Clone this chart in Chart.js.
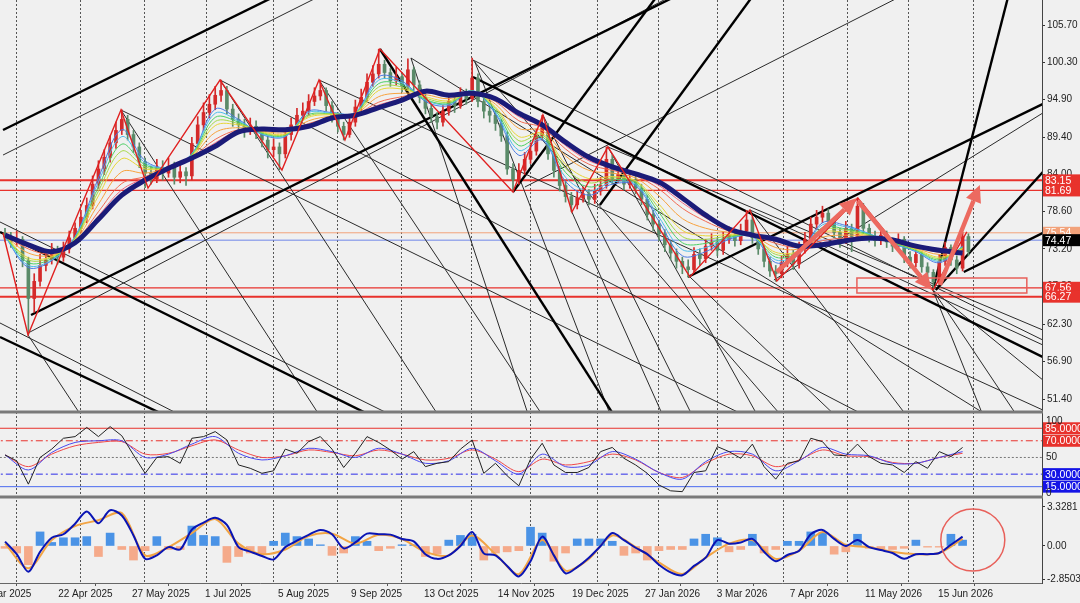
<!DOCTYPE html>
<html lang="en">
<head>
<meta charset="UTF-8">
<title>Price chart</title>
<script src="https://cdn.jsdelivr.net/npm/chart.js"></script>
<style>
  body { margin: 0; background: #f0f0f0; }
  #wrap { width: 1080px; height: 603px; position: relative; }
</style>
</head>
<body>
<div id="wrap"><canvas id="chart"></canvas></div>
<script>
// ---- candles (one candle per two sessions), index = candle number ----
const opens = [75.5,75.0,74.2,74.6,71.5,66.0,68.5,70.8,71.6,72.6, 72.0,73.2,74.8,76.2,77.8,79.5,82.6,84.8,86.5,88.6,
  90.4,92.0,89.8,88.0,85.8,84.2,83.4,85.0,84.2,85.2, 83.6,84.4,83.8,88.5,91.2,93.0,94.2,95.5,96.2,93.5,
  92.0,91.2,90.4,91.0,90.2,89.0,87.6,88.0,87.0,89.8, 91.2,92.6,93.2,94.6,95.4,96.2,94.0,92.4,91.0,89.8,
  91.6,93.8,95.2,97.4,98.6,100.0,98.8,97.6,98.2,96.8, 99.2,97.0,95.2,93.6,92.4,91.6,93.2,94.6,94.0,95.6,
  95.0,98.0,94.6,93.2,92.6,91.4,89.6,84.8,83.2,84.6, 86.2,87.4,89.6,90.8,87.0,84.6,82.4,80.8,79.6,80.6,
  81.2,80.4,81.6,82.4,86.2,83.4,84.0,82.6,83.2,82.0, 80.4,78.2,76.8,75.4,73.8,72.6,71.4,70.6,70.2,72.4,
  71.8,73.6,74.2,73.0,74.6,75.2,74.4,75.8,77.4,74.8, 73.2,71.4,70.0,69.6,71.2,72.4,71.0,73.2,74.6,76.8,
  77.8,78.4,77.2,75.6,74.6,76.2,75.0,79.4,76.2,75.0, 74.4,75.2,74.2,73.6,74.6,72.0,71.2,72.4,70.6,69.8,
  68.4,71.4,73.4,71.6,70.4,75.0];
const highs = [76.2,75.6,75.8,75.0,72.0,69.6,72.4,73.0,74.0,73.6, 74.2,75.8,77.0,78.8,80.6,83.8,86.0,87.6,89.6,91.6,
  93.4,92.6,90.4,88.6,86.4,85.2,86.2,86.0,86.4,85.8, 85.4,85.0,89.4,92.4,94.4,95.6,96.8,97.7,96.8,94.2,
  92.8,92.0,92.2,91.8,90.8,89.6,89.2,88.6,90.6,92.2, 93.6,94.4,95.6,96.6,97.7,96.6,94.6,93.0,91.6,92.6,
  94.8,96.4,98.6,99.8,102.2,100.6,99.4,99.6,98.8,100.8, 99.6,97.6,95.8,94.2,93.0,94.0,95.6,95.4,96.6,96.4,
  100.9,98.6,95.2,93.8,93.2,92.0,90.2,85.6,85.6,87.2, 88.6,90.6,92.6,91.4,87.6,85.2,83.0,81.4,81.6,82.2,
  81.8,82.6,83.6,88.0,86.8,85.0,84.6,84.2,83.8,82.6, 81.0,78.8,77.4,76.0,74.4,73.2,72.0,71.6,73.4,73.2,
  74.6,75.4,74.8,75.6,76.4,75.8,76.8,78.8,77.8,75.4, 73.8,72.0,70.8,72.2,73.6,73.0,74.2,75.6,77.8,78.8,
  79.4,79.0,77.8,76.2,77.2,76.8,80.6,79.8,76.8,75.8, 76.2,75.8,74.8,75.4,75.0,72.8,73.2,72.8,71.2,70.2,
  72.4,74.2,73.8,72.2,75.6,75.4];
const lows = [74.3,73.4,73.6,70.6,60.8,64.0,67.8,70.0,71.0,71.0, 71.4,72.6,74.0,75.6,77.0,79.0,82.0,84.0,85.8,87.8,
  89.8,89.0,87.2,85.0,82.1,82.6,82.8,83.2,83.6,82.6, 82.8,82.4,83.2,87.6,90.4,92.2,93.4,94.6,92.8,91.0,
  90.2,89.4,89.8,89.2,88.0,86.4,86.6,84.7,86.4,89.0, 90.6,92.0,92.6,94.0,94.8,93.2,91.6,90.2,89.0,89.4,
  91.0,93.2,94.6,96.8,98.0,98.0,96.8,97.0,96.0,96.4, 96.2,94.4,92.8,91.6,90.6,91.0,92.6,93.0,93.6,94.2,
  94.6,93.8,92.2,91.6,90.4,88.8,84.0,81.5,82.6,84.0, 85.6,86.8,89.0,86.2,83.6,81.6,80.0,78.6,79.0,80.0,
  79.6,79.8,81.0,82.0,82.6,82.8,81.8,82.0,81.2,79.6, 77.4,75.8,74.4,72.8,71.6,70.4,69.6,69.1,69.8,70.8,
  71.2,73.0,72.2,72.4,74.0,73.6,73.8,75.2,74.0,72.4, 70.6,69.2,68.5,69.0,70.6,70.2,70.4,72.6,74.0,76.0,
  77.0,76.4,74.8,73.4,74.0,72.8,74.4,75.4,74.2,73.6, 73.8,73.4,72.8,73.0,71.2,70.4,70.6,69.8,69.0,67.2,
  68.0,70.8,70.8,69.6,70.0,72.2];
const closes = [75.0,74.2,74.6,71.5,66.0,68.5,70.8,71.6,72.6,72.0, 73.2,74.8,76.2,77.8,79.5,82.6,84.8,86.5,88.6,90.4,
  92.0,89.8,88.0,85.8,84.2,83.4,85.0,84.2,85.2,83.6, 84.4,83.8,88.5,91.2,93.0,94.2,95.5,96.2,93.5,92.0,
  91.2,90.4,91.0,90.2,89.0,87.6,88.0,87.0,89.8,91.2, 92.6,93.2,94.6,95.4,96.2,94.0,92.4,91.0,89.8,91.6,
  93.8,95.2,97.4,98.6,100.0,98.8,97.6,98.2,96.8,99.2, 97.0,95.2,93.6,92.4,91.6,93.2,94.6,94.0,95.6,95.0,
  98.0,94.6,93.2,92.6,91.4,89.6,84.8,83.2,84.6,86.2, 87.4,89.6,90.8,87.0,84.6,82.4,80.8,79.6,80.6,81.2,
  80.4,81.6,82.4,86.2,83.4,84.0,82.6,83.2,82.0,80.4, 78.2,76.8,75.4,73.8,72.6,71.4,70.6,70.2,72.4,71.8,
  73.6,74.2,73.0,74.6,75.2,74.4,75.8,77.4,74.8,73.2, 71.4,70.0,69.6,71.2,72.4,71.0,73.2,74.6,76.8,77.8,
  78.4,77.2,75.6,74.6,76.2,75.0,79.4,76.2,75.0,74.4, 75.2,74.2,73.6,74.6,72.0,71.2,72.4,70.6,69.8,68.4,
  71.4,73.4,71.6,70.4,75.0,72.8];

// ---- moving-average ribbon, read every 4th candle (fastest first) ----
const maFast   = [75.0,70.5,71.5,75.0,83.5,90.5,86.0,85.0,87.0,93.5, 92.0,89.8,89.5,93.2,93.0,93.0,98.2,97.6,94.6,94.0,
  96.2,92.8,86.8,89.0,83.0,81.0,82.6,82.4,77.2,72.2, 72.8,74.6,75.0,71.2,72.4,77.0,76.6,75.4,74.0,72.8, 71.2,73.6];
const maSky    = [75.0,70.8,71.6,74.9,82.9,89.5,85.7,85.0,87.0,92.9, 91.8,89.9,89.6,93.0,92.9,93.0,97.7,97.3,94.8,94.2,
  96.2,93.0,87.5,89.2,83.6,81.6,82.9,82.6,77.8,73.1, 73.4,74.8,75.0,71.6,72.5,76.7,76.4,75.4,74.0,72.9, 71.4,73.5];
const maGreen  = [75.1,71.2,71.8,74.8,82.2,88.4,85.4,85.0,86.9,92.3, 91.6,90.0,89.7,92.7,92.8,92.9,97.2,97.0,94.9,94.3,
  96.1,93.3,88.2,89.5,84.3,82.2,83.2,82.8,78.5,74.1, 74.0,74.9,75.1,72.0,72.7,76.3,76.1,75.3,74.1,73.0, 71.6,73.4];
const maLime   = [75.1,71.6,72.0,74.7,81.6,87.4,85.1,85.0,86.8,91.7, 91.4,90.1,89.8,92.5,92.8,92.9,96.7,96.7,95.1,94.5,
  96.1,93.6,88.9,89.8,84.9,82.8,83.5,83.0,79.1,75.0, 74.6,75.1,75.1,72.4,72.8,76.0,75.9,75.2,74.2,73.1, 71.8,73.3];
const maYellow = [75.1,71.9,72.1,74.6,80.9,86.3,84.8,85.0,86.7,91.1, 91.2,90.2,89.9,92.3,92.7,92.8,96.2,96.4,95.3,94.7,
  96.0,93.8,89.5,90.0,85.5,83.4,83.7,83.1,79.7,75.9, 75.1,75.3,75.1,72.7,72.9,75.6,75.6,75.1,74.2,73.2, 72.0,73.2];
const maOrange = [75.1,72.6,72.3,74.4,79.7,84.4,84.2,85.0,86.6,90.1, 90.8,90.3,90.1,91.8,92.5,92.8,95.3,95.8,95.6,95.0,
  96.0,94.2,90.7,90.4,86.7,84.6,84.2,83.5,80.9,77.6, 76.2,75.6,75.1,73.4,73.2,74.9,75.2,75.0,74.3,73.3, 72.4,73.0];
const maRed    = [75.2,73.2,72.5,74.2,78.6,82.7,83.7,85.0,86.5,89.1, 90.5,90.5,90.3,91.4,92.3,92.7,94.5,95.3,95.9,95.3,
  95.9,94.6,91.8,90.8,87.7,85.5,84.6,83.8,81.9,79.1, 77.2,75.8,75.2,74.0,73.4,74.4,74.8,74.9,74.4,73.5, 72.7,72.8];
const maCoral  = [75.2,73.5,72.7,74.2,78.0,81.8,83.5,85.0,86.5,88.6, 90.4,90.6,90.4,91.2,92.3,92.7,94.1,95.0,96.0,95.4,
  95.9,94.8,92.4,91.0,88.2,86.0,84.9,84.0,82.4,79.9, 77.7,76.0,75.2,74.3,73.5,74.1,74.6,74.9,74.5,73.6, 72.9,72.7];
const maSlow   = [75.2,73.8,72.8,74.1,77.5,81.0,83.2,84.9,86.4,88.1, 90.2,90.6,90.5,91.0,92.2,92.6,93.7,94.8,96.1,95.5,
  95.8,95.0,92.9,91.2,88.7,86.5,85.1,84.1,82.9,80.6, 78.1,76.1,75.2,74.6,73.6,73.8,74.4,74.8,74.5,73.6, 73.0,72.6];

// ---- oscillator panel (black read every 2nd candle, blue/red every 4th) ----
const oscBlack = [53,46,18,50,60,73,75,86,75,87, 76,53,31,50,51,43,73,75,81,71, 41,37,31,34,60,55,69,75,60,38,
  55,75,68,59,48,57,39,43,45,60, 71,31,43,28,16,48,67,41,32,32, 38,57,62,49,41,31,17,10,9,32,
  34,63,57,49,66,39,24,43,46,73, 69,53,52,66,51,43,41,32,45,37, 57,51,62];
const oscBlue = [53,35,56,68,70,70,50,54,66,75, 55,47,52,61,57,50,61,54,43,46, 61,46,30,54,39,41,57,48,32,24,
  45,57,54,34,46,62,54,52,43,43, 50,57];
const oscRed = [53,39,54,64,68,69,54,55,64,71, 59,50,52,59,56,52,59,54,47,49, 59,48,33,48,41,45,54,47,32,26,
  43,54,52,39,47,59,52,51,44,43, 50,55];
const oscLevels = [85, 70, 50, 30, 15];

// ---- MACD panel ----
const macdLine = [0.37,-0.7,-2.2,-0.5,0.7,1.0,1.9,2.95,1.94,3.05, 2.6,0.9,-1.1,-0.8,-0.1,-0.3,1.4,2.0,2.4,1.8,
  -0.1,-0.48,-0.85,-1.15,-0.1,0.45,0.95,1.37,1.0,-0.2, 0.3,1.05,1.0,0.97,0.6,0.4,-0.7,-1.1,-0.8,0.0,
  1.2,-0.63,-0.8,-1.7,-2.6,-1.3,0.8,-0.8,-2.33,-1.8, -1.0,0.0,1.1,0.5,-0.15,-0.7,-1.6,-2.25,-2.5,-1.7,
  -1.0,0.5,0.2,0.3,0.6,-0.5,-1.3,-0.77,-0.4,1.0, 1.37,0.6,0.0,0.5,-0.1,-0.35,-0.6,-1.1,-0.7,-0.7, -0.6,0.1,0.8];
const macdSignal = [0.2,-1.9,0.5,1.7,2.2,2.8,-0.8,-0.1,1.1,2.3, 0.2,-0.7,-0.3,0.85,1.05,0.2,0.95,0.6,-0.5,-0.8,
  0.9,-0.7,-2.4,0.5,-2.1,-1.1,0.9,-0.1,-1.4,-2.4, -1.0,0.2,0.5,-1.1,-0.4,1.2,0.1,-0.1,-0.5,-0.7, -0.6,0.6];
const macdHist = [-0.2,-0.6,-1.6,1.2,0.3,0.7,0.7,0.8,-0.9,1.1, -0.3,-1.2,-0.4,0.8,-0.3,-0.3,1.7,0.9,0.8,-1.4,
  -0.9,-0.6,-0.7,0.4,1.1,0.8,0.6,0.1,-0.8,-0.6, 0.8,0.4,-0.4,-0.2,0.1,0.1,-0.9,-0.7,0.5,0.9,
  1.0,-1.2,-0.6,-0.5,-0.4,1.6,1.1,-1.3,-0.6,0.6, 0.6,0.6,0.4,-0.8,-0.6,-1.2,-0.4,-0.3,-0.3,0.6,
  1.0,0.7,-0.5,-0.3,1.0,-0.6,-0.3,0.4,0.4,1.2, 1.1,-0.7,-0.5,1.0,-0.2,-0.3,-0.3,-0.2,0.5,-0.1, -0.1,1.0,0.5];

// ---- axes ----
const priceTicks = [105.70, 100.30, 94.90, 89.40, 84.00, 78.60, 73.20, 67.80, 62.30, 56.90, 51.40];
const macdTicks = [3.3281, 0, -2.8503];
const dateTicks = [-5.1, 9.1, 21.75, 34.25, 46.75, 59.25, 71.75, 84.4, 97.1, 109.6, 121.9, 134.4, 147.3, 159.8];
const dateLabels = ['18 Mar 2025','22 Apr 2025','27 May 2025','1 Jul 2025','5 Aug 2025','9 Sep 2025','13 Oct 2025',
  '14 Nov 2025','19 Dec 2025','27 Jan 2026','3 Mar 2026','7 Apr 2026','11 May 2026','15 Jun 2026'];
const gridDays = [1.88, 12.84, 23.8, 34.4, 45.9, 56.8, 67.8, 79.8, 89.9, 101.4, 111.8, 121.9, 133.2, 144.2, 154.6, 165.8];

// ---- drawn objects: levels, trendlines (candle, price, candle, price) ----
const priceLevels = [83.15, 81.69, 75.54, 74.47, 67.56, 66.27];
const zigX = [-0.34,3.94,10.27,19.86,24.49,36.82,47.43,53.77,58.22,64.21,86.99,92.12,97.09,103.25,117.29,127.57,132.19,146.06,158.9,164.73];
const zigY = [75.51,60.71,73.77,93.36,82.04,97.72,84.65,97.72,89.01,102.22,81.46,92.64,78.56,88.0,69.13,78.85,68.54,80.59,67.24,75.66];
const thickLines = [
  [-0.34,90.46,50.51,111.65], [4.45,63.61,119.0,111.61], [-0.86,75.66,64.2,48.37], [-0.86,60.42,29.1,48.37],
  [80.14,98.15,177.74,57.51], [64.21,102.22,104.45,48.83], [86.99,81.46,112.16,110.46], [101.88,79.58,128.42,110.33],
  [116.95,69.13,177.74,94.23], [158.9,67.24,172.1,110.8], [159.4,67.24,177.74,84.37], [164.2,69.85,177.74,75.51]
];
const thinLines = [
  [-0.34,86.83,55.65,110.63], [3.94,60.99,115.6,110.55], [-0.86,77.11,67.64,48.46], [-0.86,62.45,31.68,48.37],
  [3.94,60.71,13.53,48.37], [19.86,93.36,54.79,47.82], [19.86,93.36,127.57,48.66], [36.82,97.72,149.8,47.9],
  [36.82,97.72,74.5,48.66], [53.77,97.72,177.74,49.82], [53.77,97.72,92.47,48.52], [69.52,100.91,170.4,47.9],
  [80.14,100.62,177.74,59.98], [80.48,100.33,105.3,45.5], [92.12,92.64,119.0,46.8], [97.09,78.56,113.0,48.37],
  [103.25,88.0,177.74,61.43], [127.57,78.85,154.97,48.37], [127.57,78.85,177.74,59.26], [89.04,82.19,154.97,110.54],
  [131.68,68.69,177.74,92.93], [158.9,67.24,167.8,48.37], [158.9,67.24,173.8,48.37], [158.9,67.24,177.74,54.18],
  [69.52,100.91,89.9,48.37], [103.25,88.0,129.3,48.37], [117.3,69.13,143.0,48.37], [80.14,100.62,133.6,48.37]
];
const arrowLines = [[132.19,69.85,145.89,80.59], [146.06,80.16,158.73,67.24], [160.1,67.96,166.95,82.48]];
const zoneBox = [145.9, 68.98, 175.0, 66.8];
const macdRing = [165.75, 0.51, 5.48, 2.65];

// ---- colours ----
const RED = '#e8322c', UP = '#d42a2a', DOWN = '#5a8a68';
const levelColors = [RED, RED, '#f2a27a', '#6f86e8', RED, RED];
const levelWidths = [2, 1.2, 1, 1, 1.2, 2];
const tagColors = [RED, RED, '#f2a27a', '#000000', RED, RED];

const xy = (xs, ys) => ys.map((y, k) => ({ x: xs[k], y }));
const every2 = oscBlack.map((_, k) => 2 * k);
const every4 = maSlow.map((_, k) => 4 * k);
const candleColors = closes.map((c, i) => c >= opens[i] ? UP : DOWN);

const segment = (s, color, width, order) => ({
  type: 'line', yAxisID: 'y', order, data: [{ x: s[0], y: s[1] }, { x: s[2], y: s[3] }],
  borderColor: color, borderWidth: width, pointRadius: 0, fill: false
});
const flat = (axis, v, color, width, dash, order) => ({
  type: 'line', yAxisID: axis, order, data: [{ x: -5, y: v }, { x: 180, y: v }],
  borderColor: color, borderWidth: width, borderDash: dash, pointRadius: 0, fill: false
});
const curve = (axis, xs, ys, color, width, tension, order) => ({
  type: 'line', yAxisID: axis, order, data: xy(xs, ys),
  borderColor: color, borderWidth: width, pointRadius: 0, tension, fill: false
});

const datasets = [];
priceLevels.forEach((v, k) => datasets.push(flat('y', v, levelColors[k], levelWidths[k], [], 9)));
thickLines.forEach(s => datasets.push(segment(s, '#000', 2.4, 8)));
thinLines.forEach(s => datasets.push(segment(s, '#2a2a2a', 1, 8)));
datasets.push({ type: 'bar', yAxisID: 'y', order: 7, grouped: false, barThickness: 1,
  data: highs.map((h, i) => ({ x: i, y: [lows[i], h] })), backgroundColor: candleColors });
datasets.push({ type: 'bar', yAxisID: 'y', order: 6, grouped: false, barThickness: 3,
  data: closes.map((c, i) => ({ x: i, y: [opens[i], c] })), backgroundColor: candleColors });
[[maCoral, '#ee6a86'], [maRed, '#f26a52'], [maOrange, '#f7a23e'], [maYellow, '#e6d638'],
 [maLime, '#a6d846'], [maGreen, '#4ccf66'], [maSky, '#4cbcec'], [maFast, '#4a7ae2']]
  .forEach(([arr, col]) => datasets.push(curve('y', every4, arr, col, 1, 0.35, 4)));
datasets.push(curve('y', every4, maSlow, '#1b1b78', 5, 0.35, 3));
datasets.push(curve('y', zigX, zigY, '#e02020', 1.4, 0, 2));

const oscStyles = [[RED, []], [RED, [7, 3, 2, 3]], ['#777', [2, 2]], ['#2a2ae8', [7, 3, 2, 3]], ['#4a6af0', []]];
oscLevels.forEach((v, k) => datasets.push(flat('o', v, oscStyles[k][0], 1, oscStyles[k][1], 9)));
datasets.push(curve('o', every4, oscRed, '#f04848', 1, 0.3, 3));
datasets.push(curve('o', every4, oscBlue, '#4848f0', 1, 0.3, 2));
datasets.push(curve('o', every2, oscBlack, '#222', 1, 0, 1));

datasets.push({ type: 'bar', yAxisID: 'm', order: 5, grouped: false, barThickness: 8,
  data: xy(every2, macdHist), backgroundColor: macdHist.map(v => v >= 0 ? '#4a93e6' : '#f5aa8a') });
datasets.push(curve('m', every4, macdSignal, '#f2a444', 2, 0.3, 2));
datasets.push(curve('m', every2, macdLine, '#0a14b4', 2, 0.3, 1));

// clip each dataset to the panel of its own y axis
const panelClip = {
  id: 'panelClip',
  beforeDatasetDraw(chart, args) {
    const ys = args.meta.yScale, a = chart.chartArea, ctx = chart.ctx;
    ctx.save();
    ctx.beginPath();
    ctx.rect(a.left, ys.top, a.right - a.left, ys.bottom - ys.top);
    ctx.clip();
  },
  afterDatasetDraw(chart) { chart.ctx.restore(); }
};

const panelDecor = {
  id: 'panelDecor',
  beforeDatasetsDraw(chart) {
    const { ctx, chartArea: a, scales: { x } } = chart;
    ctx.save();
    ctx.strokeStyle = '#555';
    ctx.lineWidth = 1;
    ctx.setLineDash([2, 2]);
    gridDays.forEach(d => {
      const px = Math.round(x.getPixelForValue(d)) + 0.5;
      ctx.beginPath(); ctx.moveTo(px, a.top); ctx.lineTo(px, a.bottom); ctx.stroke();
    });
    ctx.restore();
  },
  afterDatasetsDraw(chart) {
    const { ctx, chartArea: a, scales: { x, y, o, m } } = chart;
    ctx.save();
    // pink zone
    ctx.strokeStyle = '#e8605a';
    ctx.lineWidth = 1.5;
    const bx = x.getPixelForValue(zoneBox[0]), by = y.getPixelForValue(zoneBox[1]);
    ctx.strokeRect(bx, by, x.getPixelForValue(zoneBox[2]) - bx, y.getPixelForValue(zoneBox[3]) - by);
    // arrows
    ctx.strokeStyle = '#ec6a60';
    ctx.fillStyle = '#ec6a60';
    arrowLines.forEach(s => {
      const x1 = x.getPixelForValue(s[0]), y1 = y.getPixelForValue(s[1]);
      const x2 = x.getPixelForValue(s[2]), y2 = y.getPixelForValue(s[3]);
      const ang = Math.atan2(y2 - y1, x2 - x1), len = 17, half = 8;
      const bx2 = x2 - len * Math.cos(ang), by2 = y2 - len * Math.sin(ang);
      ctx.lineWidth = 4.5;
      ctx.beginPath(); ctx.moveTo(x1, y1); ctx.lineTo(bx2, by2); ctx.stroke();
      ctx.beginPath();
      ctx.moveTo(x2, y2);
      ctx.lineTo(bx2 + half * Math.sin(ang), by2 - half * Math.cos(ang));
      ctx.lineTo(bx2 - half * Math.sin(ang), by2 + half * Math.cos(ang));
      ctx.closePath(); ctx.fill();
    });
    // ring on the MACD panel
    const cx = x.getPixelForValue(macdRing[0]), cy = m.getPixelForValue(macdRing[1]);
    const rx = x.getPixelForValue(macdRing[0] + macdRing[2]) - cx;
    const ry = cy - m.getPixelForValue(macdRing[1] + macdRing[3]);
    ctx.strokeStyle = '#e8605a';
    ctx.lineWidth = 1.5;
    ctx.beginPath(); ctx.ellipse(cx, cy, rx, ry, 0, 0, Math.PI * 2); ctx.stroke();
    // panel separators
    ctx.fillStyle = '#7a7a7a';
    [o.top, m.top].forEach(t => ctx.fillRect(a.left, t - 1.5, a.right - a.left + 1, 3));
    ctx.restore();
  },
  afterDraw(chart) {
    const { ctx, scales: { y, o } } = chart;
    ctx.save();
    ctx.font = '10.5px "Liberation Sans", Arial, sans-serif';
    ctx.textBaseline = 'middle';
    const tag = (scale, v, text, bg) => {
      const py = scale.getPixelForValue(v), x0 = scale.left + 1;
      ctx.fillStyle = bg;
      ctx.fillRect(x0, py - 6, chart.width - x0, 12);
      ctx.fillStyle = '#fff';
      ctx.fillText(text, x0 + 2, py + 0.5);
    };
    priceLevels.forEach((v, k) => tag(y, v, v.toFixed(2), tagColors[k]));
    [[85, RED], [70, RED], [30, '#1414e6'], [15, '#1414e6']].forEach(([v, c]) => tag(o, v, v.toFixed(4), c));
    ctx.font = '10px "Liberation Sans", Arial, sans-serif';
    ctx.fillStyle = '#222';
    [[100, '100'], [50, '50'], [0, '0']].forEach(([v, t]) => {
      const py = Math.min(Math.max(o.getPixelForValue(v), o.top + 9), o.bottom - 4);
      ctx.fillText(t, o.left + 4, py);
    });
    ctx.restore();
  }
};

Chart.defaults.font.family = '"Liberation Sans", Arial, sans-serif';
Chart.defaults.font.size = 10;
Chart.defaults.color = '#222';

const rightAxis = extra => Object.assign({
  type: 'linear', position: 'right', stack: 'panels',
  grid: { drawOnChartArea: false, drawTicks: true, tickLength: 3, color: '#333' },
  border: { color: '#444', width: 1 },
  ticks: { padding: 2, autoSkip: false },
  afterFit: s => { s.width = 38; s.paddingTop = 0; s.paddingBottom = 0; }
}, extra);

new Chart(document.getElementById('chart'), {
  type: 'line',
  data: { datasets },
  plugins: [panelClip, panelDecor],
  options: {
    responsive: true,
    maintainAspectRatio: false,
    animation: false,
    events: [],
    layout: { padding: 0, autoPadding: false },
    plugins: { legend: { display: false }, tooltip: { enabled: false } },
    scales: {
      x: {
        type: 'linear', min: -0.86, max: 177.6, offset: false,
        grid: { drawOnChartArea: false, drawTicks: true, tickLength: 3, color: '#555' },
        border: { color: '#666', width: 1 },
        ticks: { align: 'start', autoSkip: false, maxRotation: 0, minRotation: 0, padding: 2,
          callback: (v, k) => dateLabels[k] },
        afterBuildTicks: s => { s.ticks = dateTicks.map(v => ({ value: v })); },
        afterFit: s => { s.height = 20; s.paddingLeft = 0; s.paddingRight = 0; }
      },
      y: rightAxis({
        stackWeight: 412, min: 49.53, max: 109.33,
        afterBuildTicks: s => { s.ticks = priceTicks.map(v => ({ value: v })); },
        ticks: { padding: 2, autoSkip: false, callback: v => v.toFixed(2) }
      }),
      o: rightAxis({
        stackWeight: 85, min: 2.6, max: 104.5,
        grid: { drawOnChartArea: false, drawTicks: false },
        ticks: { display: false }
      }),
      m: rightAxis({
        stackWeight: 86, min: -3.16, max: 4.18,
        afterBuildTicks: s => { s.ticks = macdTicks.map(v => ({ value: v })); },
        ticks: { padding: 2, autoSkip: false, callback: v => v === 0 ? '0.00' : v.toFixed(4) }
      })
    }
  }
});
</script>
</body>
</html>
